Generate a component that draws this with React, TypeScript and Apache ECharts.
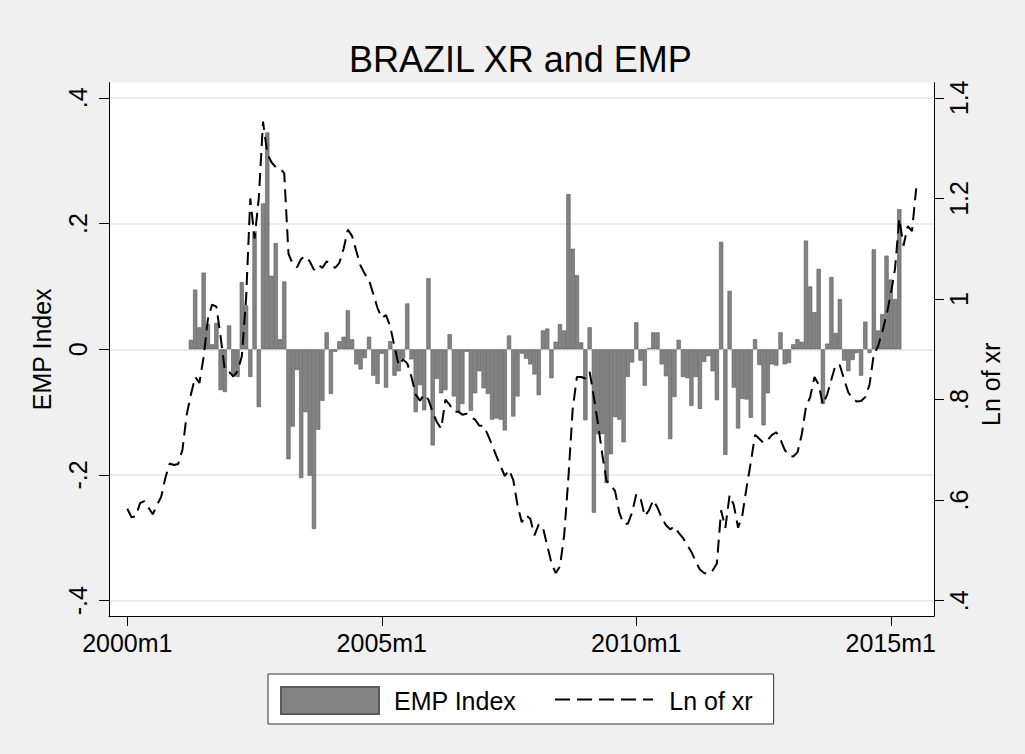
import React, { useEffect, useRef } from "react";
import * as echarts from "echarts";

const FONT = '"Liberation Sans", Arial, Helvetica, sans-serif';

// x axis: months since 2000m1
const X_TICKS = [0, 60, 120, 180];
const X_TICK_LABELS = ["2000m1", "2005m1", "2010m1", "2015m1"];
const EMP_TICKS = [-0.4, -0.2, 0, 0.2, 0.4];
const XR_TICKS = [0.4, 0.6, 0.8, 1.0, 1.2, 1.4];

// EMP Index, monthly from 2001m4 (month 15)
const EMP_START = 15;
const EMP_INDEX = [
  0.015, 0.095, 0.035, 0.122, 0.04, 0.008, 0.042, -0.065, -0.068, 0.038, -0.04, -0.044, 0.107, 0.07, -0.044, 0.188, -0.092,
  0.232, 0.345, 0.117, 0.169, 0.016, 0.108, -0.175, -0.123, -0.033, -0.205, -0.1, -0.201, -0.286, -0.128, -0.082, 0.027,
  -0.071, -0.004, 0.013, 0.02, 0.062, 0.016, -0.024, -0.032, -0.014, 0.02, -0.042, -0.055, -0.007, -0.061, 0.013, -0.042,
  -0.035, -0.015, 0.073, -0.016, -0.1, -0.057, -0.097, 0.113, -0.153, -0.047, -0.07, -0.065, 0.024, -0.075, -0.1, -0.087,
  -0.004, -0.098, -0.07, -0.035, -0.062, -0.071, -0.112, -0.11, -0.112, -0.129, 0.022, -0.107, -0.075, -0.007, -0.015,
  -0.024, -0.04, -0.073, 0.03, 0.033, -0.046, 0.012, 0.04, 0.03, 0.247, 0.16, 0.118, 0.011, -0.113, 0.035, -0.26, -0.135,
  -0.135, -0.213, -0.167, -0.108, -0.112, -0.148, -0.044, -0.021, 0.043, -0.018, -0.058, 0.002, 0.027, 0.027, -0.024,
  -0.043, -0.143, -0.076, 0.015, -0.044, -0.046, -0.09, -0.044, -0.095, -0.02, -0.011, -0.035, -0.081, 0.171, -0.168,
  0.093, -0.061, -0.126, -0.079, -0.08, -0.109, 0.016, -0.025, -0.121, -0.07, -0.024, -0.026, 0.027, -0.024, -0.022,
  0.008, 0.016, 0.012, 0.173, 0.1, 0.059, 0.128, -0.087, 0.009, 0.115, 0.026, 0.08, -0.018, -0.035, -0.017, -0.006,
  -0.042, 0.044, -0.006, 0.159, 0.03, 0.056, 0.149, 0.111, 0.08, 0.223,
];

// Ln of exchange rate, monthly from 2000m1 (month 0)
const XR_START = 0;
const LN_XR = [
  0.583, 0.566, 0.568, 0.594, 0.598, 0.585, 0.572, 0.59, 0.607, 0.645, 0.673, 0.67,
  0.672, 0.7, 0.77, 0.81, 0.845, 0.833, 0.885, 0.96, 0.989, 0.985, 0.925, 0.858,
  0.855, 0.846, 0.856, 0.886, 1.0, 1.2, 1.12, 1.2, 1.353, 1.29, 1.272, 1.262,
  1.26, 1.25, 1.09, 1.07, 1.063, 1.08, 1.085, 1.075, 1.058, 1.068, 1.062, 1.075,
  1.068, 1.062, 1.072, 1.1, 1.138, 1.125, 1.095, 1.066, 1.05, 1.037, 1.01, 0.982,
  0.962, 0.968, 0.945, 0.905, 0.868, 0.88, 0.872, 0.845, 0.81, 0.798, 0.81, 0.8,
  0.775, 0.755, 0.742, 0.8, 0.79, 0.776, 0.776, 0.77, 0.772, 0.765, 0.76, 0.748,
  0.748, 0.73, 0.71, 0.688, 0.668, 0.648, 0.66, 0.64, 0.59, 0.556, 0.57, 0.563,
  0.53, 0.552, 0.545, 0.51, 0.475, 0.455, 0.468, 0.53, 0.645, 0.78, 0.845, 0.845,
  0.842, 0.855, 0.805, 0.75, 0.69, 0.638, 0.63, 0.618, 0.575, 0.553, 0.553, 0.575,
  0.612, 0.604, 0.568, 0.58, 0.6, 0.585, 0.565, 0.55, 0.542, 0.548, 0.535, 0.525,
  0.511, 0.497, 0.478, 0.462, 0.455, 0.453, 0.46, 0.474, 0.58, 0.545, 0.61, 0.59,
  0.545, 0.57, 0.625, 0.675, 0.73, 0.722, 0.714, 0.72, 0.73, 0.735, 0.72, 0.7,
  0.688, 0.687, 0.695, 0.73, 0.785, 0.805, 0.845, 0.83, 0.79, 0.81, 0.84, 0.87,
  0.868, 0.84, 0.814, 0.802, 0.796, 0.797, 0.805, 0.83, 0.89, 0.906, 0.935, 0.968,
  1.01, 1.06, 1.16, 1.106, 1.145, 1.135, 1.22,
];

const stataFmt = (v: number) => {
  const r = Math.round(v * 10) / 10;
  if (r === 0) return "0";
  return String(r).replace(/^(-?)0\./, "$1.");
};

const textBase = { color: "#000", fontFamily: FONT, fontSize: 25 };
const LINE_DASH = [13, 7];

export default function App() {
  const ref = useRef<HTMLDivElement>(null);

  useEffect(() => {
    if (!ref.current) return;
    const chart = echarts.init(ref.current, undefined, { renderer: "svg" });
    chart.setOption({
      animation: false,
      backgroundColor: "#f0f0f0",
      title: {
        text: "BRAZIL XR and EMP",
        left: 349,
        top: 41,
        padding: 0,
        textStyle: { color: "#000", fontFamily: FONT, fontSize: 36, fontWeight: "normal" },
      },
      grid: {
        left: 109,
        right: 91,
        top: 82.6,
        bottom: 138,
        show: true,
        backgroundColor: "#ffffff",
        borderWidth: 0,
        containLabel: false,
      },
      legend: {
        left: 268,
        top: 674,
        orient: "horizontal",
        itemWidth: 98,
        itemHeight: 27,
        itemGap: 40,
        padding: [12, 21, 9, 12],
        backgroundColor: "#ffffff",
        borderColor: "#333333",
        borderWidth: 1,
        textStyle: { ...textBase, padding: [0, 0, 0, 10] },
        data: [
          { name: "EMP Index", icon: "rect" },
          { name: "Ln of xr", icon: "none" },
        ],
      },
      // dashed key sample for the "Ln of xr" legend entry
      graphic: [
        {
          type: "line",
          z: 100,
          silent: true,
          shape: { x1: 555, y1: 699.5, x2: 653, y2: 699.5 },
          style: { stroke: "#000", lineWidth: 2, lineDash: [15, 7] },
        },
      ],
      xAxis: {
        type: "value",
        min: -4.314,
        max: 190.19,
        axisLine: { show: true, onZero: false, lineStyle: { color: "#000", width: 1 } },
        axisTick: { show: true, length: 10, customValues: X_TICKS, lineStyle: { color: "#000", width: 1 } },
        axisLabel: {
          ...textBase,
          margin: 14,
          customValues: X_TICKS,
          formatter: (v: number) => X_TICK_LABELS[X_TICKS.indexOf(Math.round(v))] ?? "",
        },
        splitLine: { show: false },
      },
      yAxis: [
        {
          type: "value",
          position: "left",
          min: -0.4243,
          max: 0.4243,
          name: "EMP Index",
          nameLocation: "middle",
          nameRotate: 90,
          nameGap: 55,
          nameTextStyle: { ...textBase },
          axisLine: { show: true, onZero: false, lineStyle: { color: "#000", width: 1 } },
          axisTick: { show: true, length: 10, customValues: EMP_TICKS, lineStyle: { color: "#000", width: 1 } },
          axisLabel: { ...textBase, rotate: 90, margin: 19, customValues: EMP_TICKS, formatter: stataFmt },
          splitLine: { show: true, lineStyle: { color: "#e4e4e4", width: 1.5 } },
        },
        {
          type: "value",
          position: "right",
          min: 0.3696,
          max: 1.4304,
          name: "Ln of xr",
          nameLocation: "middle",
          nameRotate: 90,
          nameGap: 42,
          nameTextStyle: { ...textBase, padding: [0, 70, 0, 0] },
          axisLine: { show: true, onZero: false, lineStyle: { color: "#000", width: 1 } },
          axisTick: { show: true, length: 10, customValues: XR_TICKS, lineStyle: { color: "#000", width: 1 } },
          axisLabel: { ...textBase, rotate: 90, margin: 12, customValues: XR_TICKS, formatter: stataFmt },
          splitLine: { show: false },
        },
      ],
      series: [
        {
          type: "bar",
          name: "EMP Index",
          yAxisIndex: 0,
          barWidth: 4.24,
          data: EMP_INDEX.map((v, i) => [EMP_START + i, v]),
          itemStyle: { color: "#838383", borderColor: "#5a5a5a", borderWidth: 0.6 },
        },
        {
          type: "line",
          name: "Ln of xr",
          yAxisIndex: 1,
          symbol: "none",
          showSymbol: false,
          data: LN_XR.map((v, i) => [XR_START + i, v]),
          lineStyle: { color: "#000", width: 2, type: LINE_DASH },
          itemStyle: { color: "#000" },
        },
      ],
    });
    return () => chart.dispose();
  }, []);

  return (
    <div
      ref={ref}
      style={{ position: "fixed", left: 0, top: 0, width: 1025, height: 754 }}
    />
  );
}
